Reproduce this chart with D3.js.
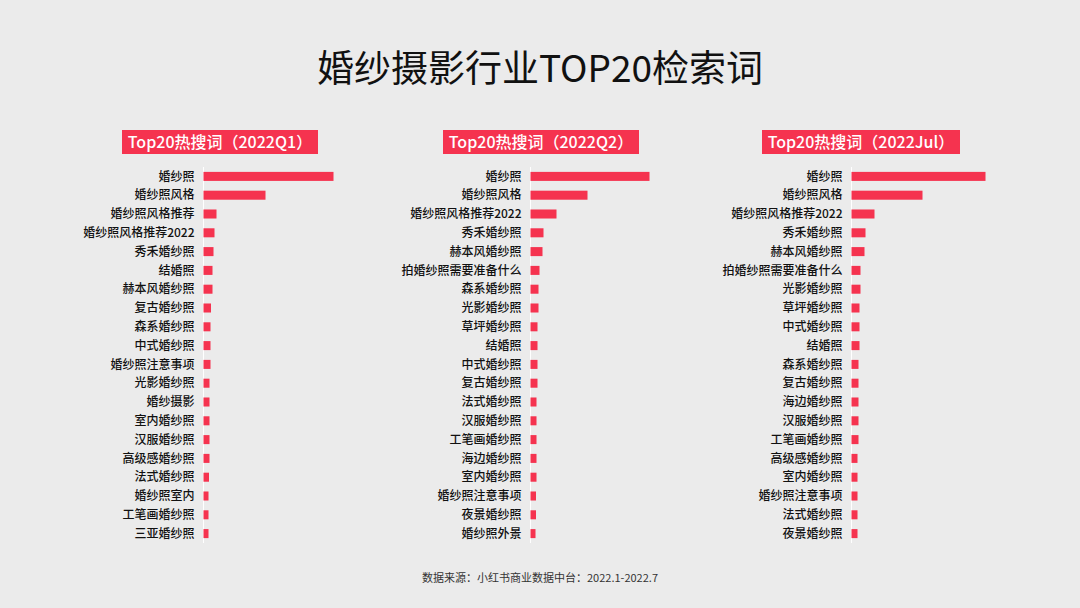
<!DOCTYPE html>
<html><head><meta charset="utf-8">
<script src="https://cdn.jsdelivr.net/npm/d3@7"></script>
<style>body{margin:0;background:#ebebeb;}svg{display:block;}</style>
</head><body><svg id="c" width="1080" height="608"></svg>
<script>
const titles = ["Top20热搜词（2022Q1）","Top20热搜词（2022Q2）","Top20热搜词（2022Jul）"];
const cats1 = ["婚纱照","婚纱照风格","婚纱照风格推荐","婚纱照风格推荐2022","秀禾婚纱照","结婚照","赫本风婚纱照","复古婚纱照","森系婚纱照","中式婚纱照","婚纱照注意事项","光影婚纱照","婚纱摄影","室内婚纱照","汉服婚纱照","高级感婚纱照","法式婚纱照","婚纱照室内","工笔画婚纱照","三亚婚纱照"];
const vals1 = [130,62,13,11,10,9,9,7.5,7,7,7,6,6,6,6,6,5.5,5,5,5];
const cats2 = ["婚纱照","婚纱照风格","婚纱照风格推荐2022","秀禾婚纱照","赫本风婚纱照","拍婚纱照需要准备什么","森系婚纱照","光影婚纱照","草坪婚纱照","结婚照","中式婚纱照","复古婚纱照","法式婚纱照","汉服婚纱照","工笔画婚纱照","海边婚纱照","室内婚纱照","婚纱照注意事项","夜景婚纱照","婚纱照外景"];
const vals2 = [119,57,26,13,12,9,8,8,7,7,7,7,6,6,6,6,6,5.5,5.5,5];
const cats3 = ["婚纱照","婚纱照风格","婚纱照风格推荐2022","秀禾婚纱照","赫本风婚纱照","拍婚纱照需要准备什么","光影婚纱照","草坪婚纱照","中式婚纱照","结婚照","森系婚纱照","复古婚纱照","海边婚纱照","汉服婚纱照","工笔画婚纱照","高级感婚纱照","室内婚纱照","婚纱照注意事项","法式婚纱照","夜景婚纱照"];
const vals3 = [134,71,23,14,13,9,9,8,8,8,7,7,7,7,7,6,6,6,6,6];
const mainTitle = "婚纱摄影行业TOP20检索词";
const source = "数据来源：小红书商业数据中台：2022.1-2022.7";

const svg = d3.select("#c");
const font = "'Noto Sans CJK SC','Noto Sans',sans-serif";
svg.append("text").attr("x",540).attr("y",82).attr("text-anchor","middle")
  .attr("font-family",font).attr("font-size",37).attr("fill","#111").text(mainTitle);
svg.append("text").attr("x",540).attr("y",582).attr("text-anchor","middle")
  .attr("font-family",font).attr("font-size",11).attr("fill","#333").text(source);

const panels = [
  {cats:cats1, vals:vals1, ax:203.5, hx:220, hw:196},
  {cats:cats2, vals:vals2, ax:530.5, hx:541, hw:196},
  {cats:cats3, vals:vals3, ax:851.5, hx:861, hw:198}
];
const x = d3.scaleLinear().domain([0,100]).range([0,100]);
panels.forEach((p,i)=>{
  const g = svg.append("g");
  g.append("rect").attr("x",p.hx-p.hw/2).attr("y",130).attr("width",p.hw).attr("height",24).attr("fill","#f5334f");
  g.append("text").attr("x",p.hx).attr("y",148).attr("text-anchor","middle").attr("font-family",font)
    .attr("font-size",16).attr("font-weight",500).attr("fill","#fff").text(titles[i]);
  const y = d3.scaleBand().domain(p.cats).range([167,543]).paddingInner(0.52).paddingOuter(0.26);
  g.append("line").attr("x1",p.ax).attr("x2",p.ax).attr("y1",167).attr("y2",543).attr("stroke","#fff").attr("stroke-width",1);
  g.selectAll("rect.b").data(p.cats).enter().append("rect").attr("class","b")
    .attr("x",p.ax).attr("y",d=>y(d)).attr("height",y.bandwidth())
    .attr("width",(d,j)=>x(p.vals[j])).attr("fill","#f5334f");
  g.selectAll("text.l").data(p.cats).enter().append("text").attr("class","l")
    .attr("x",p.ax-9).attr("y",d=>y(d)+y.bandwidth()/2).attr("dy","0.35em").attr("text-anchor","end")
    .attr("font-family",font).attr("font-size",12).attr("font-weight",500).attr("fill","#111").text(d=>d);
});
</script></body></html>
